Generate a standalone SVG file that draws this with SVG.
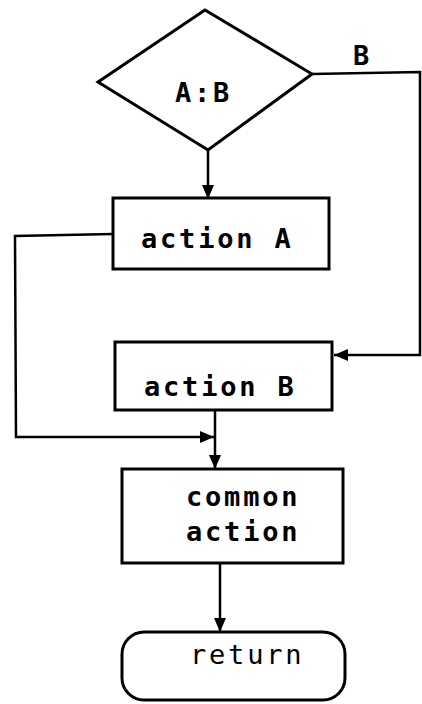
<svg xmlns="http://www.w3.org/2000/svg" width="422" height="704" viewBox="0 0 422 704">
<style>
.shape{fill:#fff;stroke:#000;stroke-width:3}
.line{fill:none;stroke:#000;stroke-width:2.5}
.t{font-family:"DejaVu Sans Mono","Liberation Mono",monospace;font-weight:bold;font-size:27px;letter-spacing:2.8px;fill:#000}
.thin{font-weight:normal}
</style>
<defs>
<marker id="arr" viewBox="0 0 14 12" refX="14" refY="6" markerWidth="14" markerHeight="12" markerUnits="userSpaceOnUse" orient="auto">
<path d="M0,0 L14,6 L0,12 Z" fill="#000"/>
</marker>
</defs>
<rect width="422" height="704" fill="#fff"/>
<g id="connectors">
<path class="line" d="M208,150 L208,199" marker-end="url(#arr)"/>
<path class="line" d="M312,74 L420,72 L420,355 L334,355" marker-end="url(#arr)"/>
<path class="line" d="M113,234 L15,236 L16,437 L214,437" marker-end="url(#arr)"/>
<path class="line" d="M215,410 L215,469" marker-end="url(#arr)"/>
<path class="line" d="M220,563 L220,632" marker-end="url(#arr)"/>
<text class="t" x="353" y="65">B</text>
</g>
<g id="decision">
<polygon class="shape" points="205,10 312,74 208,150 98,82"/>
<text class="t" x="175" y="102">A:B</text>
</g>
<g id="actionA">
<rect class="shape" x="113" y="198" width="216" height="71"/>
<text class="t" x="141" y="248">action A</text>
</g>
<g id="actionB">
<rect class="shape" x="115" y="342" width="217" height="68"/>
<text class="t" x="144" y="396">action B</text>
</g>
<g id="common">
<rect class="shape" x="122" y="469" width="221" height="94"/>
<text class="t" x="186" y="506">common</text>
<text class="t" x="186" y="541">action</text>
</g>
<g id="return">
<rect class="shape" x="122" y="632" width="223" height="68" rx="22"/>
<text class="t thin" x="190" y="664">return</text>
</g>
</svg>
